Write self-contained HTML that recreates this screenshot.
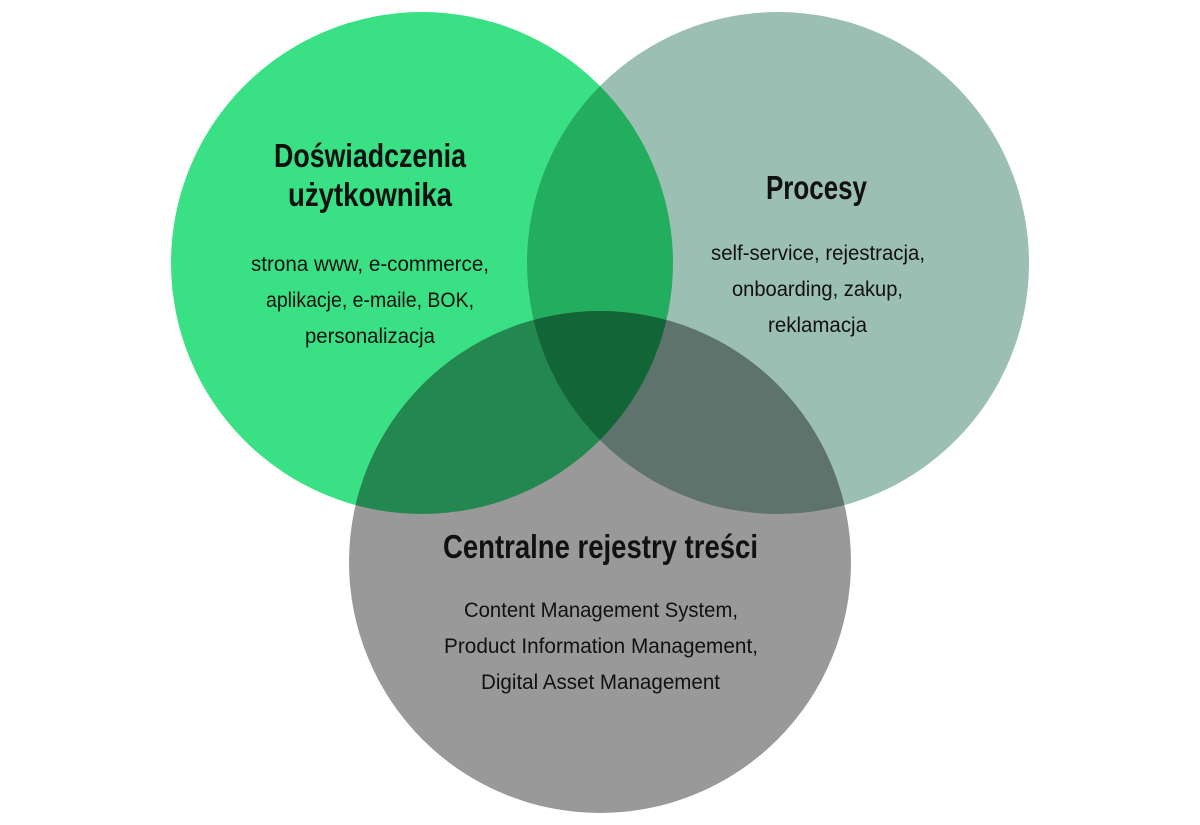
<!DOCTYPE html>
<html><head><meta charset="utf-8"><style>
html,body{margin:0;padding:0;background:#fff;width:1200px;height:825px;overflow:hidden}
svg{display:block}
text{font-family:"Liberation Sans",sans-serif;fill:#111}
.t{font-size:33px;font-weight:bold}
.b{font-size:21px}
</style></head><body>
<svg width="1200" height="825" viewBox="0 0 1200 825">
<defs>
<clipPath id="L"><circle cx="422" cy="263" r="251"/></clipPath>
<clipPath id="R"><circle cx="778" cy="263" r="251"/></clipPath>
<clipPath id="B"><circle cx="600" cy="562" r="251"/></clipPath>
</defs>
<circle cx="422" cy="263" r="251" fill="#3AE184"/>
<circle cx="778" cy="263" r="251" fill="#9BBFB3"/>
<circle cx="600" cy="562" r="251" fill="#999999"/>
<g clip-path="url(#L)"><circle cx="778" cy="263" r="251" fill="#23AD5E"/><circle cx="600" cy="562" r="251" fill="#22884F"/></g>
<g clip-path="url(#R)"><circle cx="600" cy="562" r="251" fill="#5E736C"/></g>
<g clip-path="url(#L)"><g clip-path="url(#R)"><circle cx="600" cy="562" r="251" fill="#126536"/></g></g>
<text class="t" x="274" y="167" textLength="192" lengthAdjust="spacingAndGlyphs">Doświadczenia</text>
<text class="t" x="288" y="206" textLength="164" lengthAdjust="spacingAndGlyphs">użytkownika</text>
<text class="t" x="766" y="199" textLength="101" lengthAdjust="spacingAndGlyphs">Procesy</text>
<text class="t" x="443" y="558" textLength="315" lengthAdjust="spacingAndGlyphs">Centralne rejestry treści</text>
<text class="b" x="251" y="271" textLength="238" lengthAdjust="spacingAndGlyphs">strona www, e-commerce,</text>
<text class="b" x="266" y="307" textLength="208" lengthAdjust="spacingAndGlyphs">aplikacje, e-maile, BOK,</text>
<text class="b" x="305" y="343" textLength="130" lengthAdjust="spacingAndGlyphs">personalizacja</text>
<text class="b" x="711" y="260" textLength="214" lengthAdjust="spacingAndGlyphs">self-service, rejestracja,</text>
<text class="b" x="732" y="296" textLength="171" lengthAdjust="spacingAndGlyphs">onboarding, zakup,</text>
<text class="b" x="768" y="332" textLength="99" lengthAdjust="spacingAndGlyphs">reklamacja</text>
<text class="b" x="464" y="617" textLength="274" lengthAdjust="spacingAndGlyphs">Content Management System,</text>
<text class="b" x="444" y="653" textLength="314" lengthAdjust="spacingAndGlyphs">Product Information Management,</text>
<text class="b" x="481" y="689" textLength="239" lengthAdjust="spacingAndGlyphs">Digital Asset Management</text>
</svg>
</body></html>
